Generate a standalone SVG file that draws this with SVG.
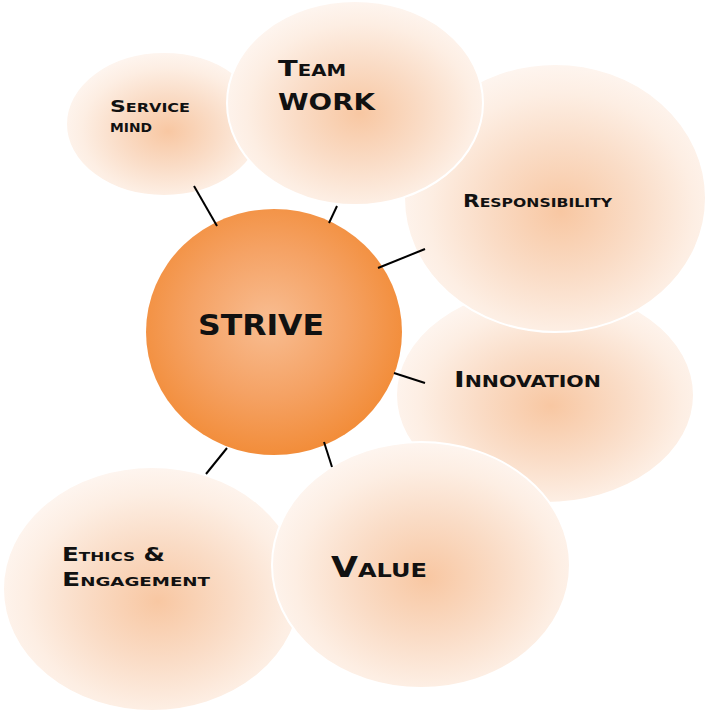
<svg xmlns="http://www.w3.org/2000/svg" width="706" height="711" viewBox="0 0 706 711">
<defs>
<radialGradient id="pale" cx="0.52" cy="0.55" r="0.55">
<stop offset="0" stop-color="#f8c7a2"/>
<stop offset="0.45" stop-color="#fadcc6"/>
<stop offset="0.8" stop-color="#fdeee3"/>
<stop offset="1" stop-color="#fef5ef"/>
</radialGradient>
<radialGradient id="core" cx="0.48" cy="0.46" r="0.55">
<stop offset="0" stop-color="#f8bd92"/>
<stop offset="0.55" stop-color="#f5a264"/>
<stop offset="1" stop-color="#f28c38"/>
</radialGradient>
</defs>
<style>
.bub{fill:url(#pale);stroke:#ffffff;stroke-width:2}
.lbl{font-family:"DejaVu Sans",sans-serif;font-weight:bold;font-variant:small-caps;fill:#111111}
.con line{stroke:#000000;stroke-width:2}
</style>
<rect width="706" height="711" fill="#ffffff"/>
<g id="node-ethics">
<ellipse class="bub" cx="152" cy="589" rx="149" ry="122"/>
<text class="lbl" x="62" y="561" font-size="19" textLength="103" lengthAdjust="spacingAndGlyphs">Ethics &amp;</text>
<text class="lbl" x="62" y="586" font-size="19" textLength="148" lengthAdjust="spacingAndGlyphs">Engagement</text>
</g>
<g id="node-strive">
<ellipse cx="274" cy="332" rx="128" ry="123" fill="url(#core)"/>
<text class="lbl" x="198" y="335" font-size="29" textLength="126" lengthAdjust="spacingAndGlyphs">STRIVE</text>
</g>
<g id="node-innovation">
<ellipse class="bub" cx="545" cy="395" rx="149" ry="108"/>
<text class="lbl" x="454" y="387" font-size="21" textLength="147" lengthAdjust="spacingAndGlyphs">Innovation</text>
</g>
<g id="node-value">
<ellipse class="bub" cx="421" cy="565" rx="149" ry="123"/>
<text class="lbl" x="331" y="577" font-size="29" textLength="96" lengthAdjust="spacingAndGlyphs">Value</text>
</g>
<g id="node-responsibility">
<ellipse class="bub" cx="555" cy="198" rx="151" ry="134"/>
<text class="lbl" x="463" y="207" font-size="18" textLength="149" lengthAdjust="spacingAndGlyphs">Responsibility</text>
</g>
<g id="node-service">
<ellipse class="bub" cx="164" cy="124" rx="98" ry="72"/>
<text class="lbl" x="110" y="112" font-size="16.5" textLength="80" lengthAdjust="spacingAndGlyphs">Service</text>
<text class="lbl" x="110" y="132" font-size="16.5" textLength="42" lengthAdjust="spacingAndGlyphs">mind</text>
</g>
<g id="node-teamwork">
<ellipse class="bub" cx="355" cy="103" rx="128" ry="102"/>
<text class="lbl" x="278" y="76" font-size="22" textLength="68" lengthAdjust="spacingAndGlyphs">Team</text>
<text class="lbl" x="278" y="110" font-size="23" textLength="97" lengthAdjust="spacingAndGlyphs">WORK</text>
</g>
<g id="connectors" class="con">
<line x1="194" y1="186" x2="217" y2="226"/>
<line x1="337" y1="206" x2="329" y2="223"/>
<line x1="425" y1="249" x2="378" y2="268"/>
<line x1="394" y1="373" x2="425" y2="383"/>
<line x1="324" y1="442" x2="332" y2="467"/>
<line x1="227" y1="448" x2="206" y2="474"/>
</g>
</svg>
